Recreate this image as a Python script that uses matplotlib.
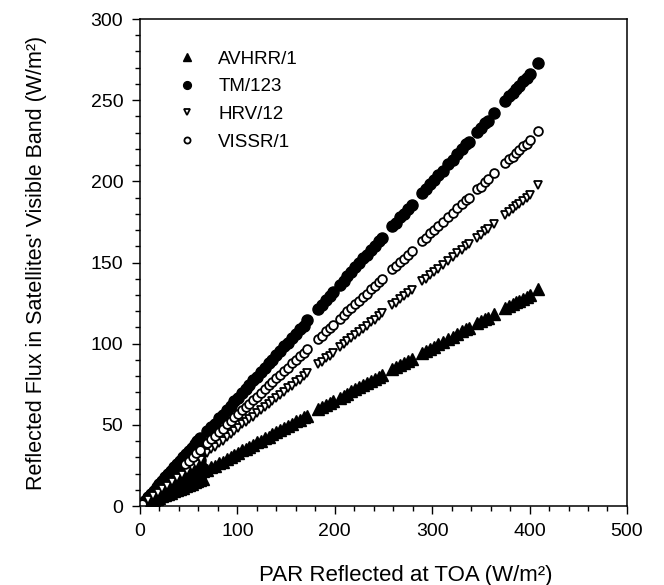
import numpy as np
import matplotlib
matplotlib.use("Agg")
import matplotlib.pyplot as plt
from matplotlib.ticker import MultipleLocator

plt.rcParams["font.family"] = ["Liberation Sans", "DejaVu Sans"]

# PAR reflected at TOA (W/m2) for the main part of the data
par_main = [69, 73, 77, 81, 85, 89, 93, 97, 101, 105, 109, 112,
            116, 120, 124, 128, 132, 136, 140, 144, 148, 152, 156, 160, 164, 168, 172,
            183, 187, 191, 195, 198,
            205, 209, 213, 217, 221, 225, 229, 233, 237, 241, 245, 249,
            259, 263, 267, 271, 275, 279,
            290, 294, 298, 302, 306, 311, 316, 321, 326, 331, 335, 338,
            346, 350, 354, 357, 364, 375, 379, 383, 386, 389, 393, 397, 400, 409]

tm_main = [46.2, 48.9, 50.8, 54.0, 56.3, 59.4, 61.5, 64.6, 66.8, 69.9, 72.1, 74.3,
           77.4, 79.5, 82.6, 84.8, 88.0, 90.1, 93.2, 95.4, 98.5, 100.6, 103.8, 105.9, 109.1, 111.2, 114.3,
           121.6, 124.0, 127.2, 129.4, 131.8,
           136.3, 138.8, 141.9, 144.1, 147.3, 149.4, 152.6, 154.7, 157.9, 160.0, 163.2, 165.4,
           172.5, 174.6, 177.8, 179.9, 183.1, 185.3,
           193.1, 195.3, 198.5, 200.6, 203.8, 206.5, 210.4, 213.2, 217.1, 219.8, 223.1, 224.5,
           230.4, 232.8, 235.8, 237.2, 242.4, 249.3, 252.6, 254.5, 257.1, 258.8, 261.7, 263.9, 266.4, 273.0]

vissr_main = [38.9, 41.4, 43.2, 45.8, 47.7, 50.3, 52.2, 54.8, 56.7, 59.3, 61.2, 63.1,
              65.4, 67.3, 69.9, 71.8, 74.4, 76.3, 78.9, 80.8, 83.4, 85.3, 87.9, 89.8, 92.4, 94.3, 96.9,
              103.1, 105.0, 107.6, 109.5, 111.6,
              115.5, 117.4, 120.0, 121.9, 124.5, 126.4, 129.0, 130.9, 133.5, 135.4, 138.0, 139.9,
              145.9, 147.8, 150.4, 152.3, 154.9, 156.8,
              163.4, 165.3, 167.9, 169.8, 172.4, 175.2, 178.1, 180.4, 183.7, 186.0, 188.8, 190.0,
              195.0, 196.8, 199.5, 201.2, 205.1, 211.3, 213.6, 215.3, 217.5, 219.2, 221.5, 223.1, 225.4, 231.2]

hrv_main = [32.6, 35.0, 36.5, 38.9, 40.3, 42.7, 44.1, 46.5, 47.9, 50.3, 51.7, 53.6,
            55.1, 57.2, 58.9, 61.0, 62.7, 64.8, 66.5, 68.6, 70.3, 72.4, 74.1, 76.2, 77.9, 80.0, 81.7,
            87.3, 88.9, 91.1, 92.7, 94.3,
            97.9, 99.5, 101.7, 103.3, 105.5, 107.1, 109.3, 110.9, 113.1, 114.7, 116.9, 118.6,
            123.7, 125.3, 127.5, 129.1, 131.3, 132.9,
            138.5, 140.1, 142.4, 144.0, 146.2, 148.5, 151.0, 153.1, 155.8, 157.9, 160.2, 161.3,
            165.4, 167.1, 169.3, 170.5, 174.0, 179.2, 181.2, 182.8, 184.6, 185.8, 188.0, 189.6, 191.3, 197.6]

avhrr_main = [22.1, 23.9, 24.8, 26.5, 27.4, 29.1, 30.0, 31.7, 32.6, 34.3, 35.2, 36.6,
              37.5, 39.2, 40.1, 41.8, 42.7, 44.4, 45.3, 47.0, 47.9, 49.6, 50.5, 52.2, 53.1, 54.8, 55.7,
              59.5, 60.7, 62.2, 63.3, 64.5,
              66.6, 68.0, 69.2, 70.6, 71.8, 73.2, 74.4, 75.8, 77.0, 78.4, 79.6, 81.0,
              84.2, 85.5, 86.8, 88.1, 89.4, 90.7,
              94.3, 95.6, 96.9, 98.2, 99.5, 101.1, 102.7, 104.4, 106.0, 107.6, 108.9, 109.9,
              112.5, 113.8, 115.1, 116.0, 118.3, 121.9, 123.2, 124.5, 125.5, 126.4, 127.8, 129.0, 130.0, 133.5]

# low PAR values, where the scatter is wide
par_low = [2, 5, 8, 11, 14, 17, 20, 23, 26, 29, 32, 35, 38, 41, 44, 47, 50, 53, 56, 59, 62, 65]

avhrr_low_a = [0.8, 2.0, 3.2, 4.4, 5.5, 6.9, 8.0, 9.1, 10.5, 11.6, 12.7, 14.1, 15.2, 16.3, 17.7, 18.7, 20.1, 21.1, 22.5, 23.5, 24.9, 25.8]
avhrr_low_b = [0.7, 1.6, 2.7, 3.6, 4.7, 5.6, 6.6, 7.6, 8.6, 9.6, 10.5, 11.6, 12.5, 13.6, 14.5, 15.5, 16.5, 17.5, 18.4, 19.5, 20.4, 21.5]
avhrr_low_c = [0.5, 1.3, 2.1, 2.9, 3.6, 4.4, 5.2, 6.0, 6.8, 7.5, 8.3, 9.1, 9.9, 10.7, 11.4, 12.2, 13.0, 13.8, 14.6, 15.3, 16.1, 16.9]

tm_low_a = [1.4, 3.4, 5.4, 7.5, 9.5, 11.6, 13.6, 15.6, 17.7, 19.7, 21.8, 23.8, 25.8, 27.9, 29.9, 32.0, 34.0, 36.0, 38.1, 40.1, 42.2]
tm_low_b = [1.2, 3.0, 4.8, 6.6, 8.4, 10.2, 12.0, 13.8, 15.6, 17.4, 19.2, 21.0, 22.8, 24.6, 26.4, 28.2, 30.0, 31.8, 33.6, 35.4, 37.2]
tm_low_c = [1.0, 2.6, 4.2, 5.7, 7.3, 8.8, 10.4, 12.0, 13.5, 15.1, 16.6, 18.2, 19.8, 21.3, 22.9, 24.4, 26.0, 27.6, 29.1, 30.7, 32.2]
tm_low_d = [0.9, 2.3, 3.7, 5.1, 6.4, 7.8, 9.2, 10.6, 12.0, 13.3, 14.7, 16.1, 17.5, 18.9, 20.2, 21.6, 23.0, 24.4, 25.8, 27.1, 28.5]

par_low_hrv = [3, 8, 13, 18, 23, 28, 33, 38, 43, 48, 53, 58, 63]
hrv_low = [1.4, 3.6, 5.9, 8.1, 10.4, 12.6, 14.9, 17.1, 19.4, 21.6, 23.9, 26.1, 28.4]
par_low_vissr = [2, 46, 50, 54, 58, 62]
vissr_low = [1.1, 25.6, 27.9, 30.1, 32.4, 34.6]

n_tm = len(tm_low_a)
avhrr_x = par_low * 3 + par_main
avhrr_y = avhrr_low_a + avhrr_low_b + avhrr_low_c + avhrr_main
tm_x = par_low[:n_tm] * 4 + par_main
tm_y = tm_low_a + tm_low_b + tm_low_c + tm_low_d + tm_main
hrv_x = par_low_hrv + par_main
hrv_y = hrv_low + hrv_main
vissr_x = par_low_vissr + par_main
vissr_y = vissr_low + vissr_main

fig = plt.figure(figsize=(6.64, 5.85), dpi=100)
ax = fig.add_axes([0.2108, 0.135, 0.7334, 0.8325])

ax.plot(avhrr_x, avhrr_y, ls="none", marker="^", ms=8, color="black", label="AVHRR/1")
ax.plot(tm_x, tm_y, ls="none", marker="o", ms=8, color="black", label="TM/123")
ax.plot(hrv_x, hrv_y, ls="none", marker="v", ms=6.3, mfc="white", mec="black", mew=1.3, label="HRV/12")
ax.plot(vissr_x, vissr_y, ls="none", marker="o", ms=6.3, mfc="white", mec="black", mew=1.3, label="VISSR/1")

ax.set_xlim(0, 500)
ax.set_ylim(0, 300)
ax.xaxis.set_major_locator(MultipleLocator(100))
ax.xaxis.set_minor_locator(MultipleLocator(20))
ax.yaxis.set_major_locator(MultipleLocator(50))
ax.yaxis.set_minor_locator(MultipleLocator(10))
ax.tick_params(which="both", direction="out", top=False, right=False, width=1.0, labelsize=14)
ax.tick_params(which="major", length=6, pad=6)
ax.tick_params(which="minor", length=3.5)
for s in ax.spines.values():
    s.set_linewidth(1.1)

ax.set_xlabel("PAR Reflected at TOA (W/m²)", fontsize=16)
ax.set_ylabel("Reflected Flux in Satellites' Visible Band (W/m²)", fontsize=15.5)
ax.xaxis.set_label_coords(0.545, -0.122)
ax.yaxis.set_label_coords(-0.19, 0.5)

ax.legend(loc="upper left", bbox_to_anchor=(0.078, 0.935), frameon=False, fontsize=13.5,
          handlelength=1.0, handletextpad=1.15, labelspacing=0.56, borderpad=0, borderaxespad=0,
          markerscale=0.7)

fig.savefig("out.png", dpi=100)
